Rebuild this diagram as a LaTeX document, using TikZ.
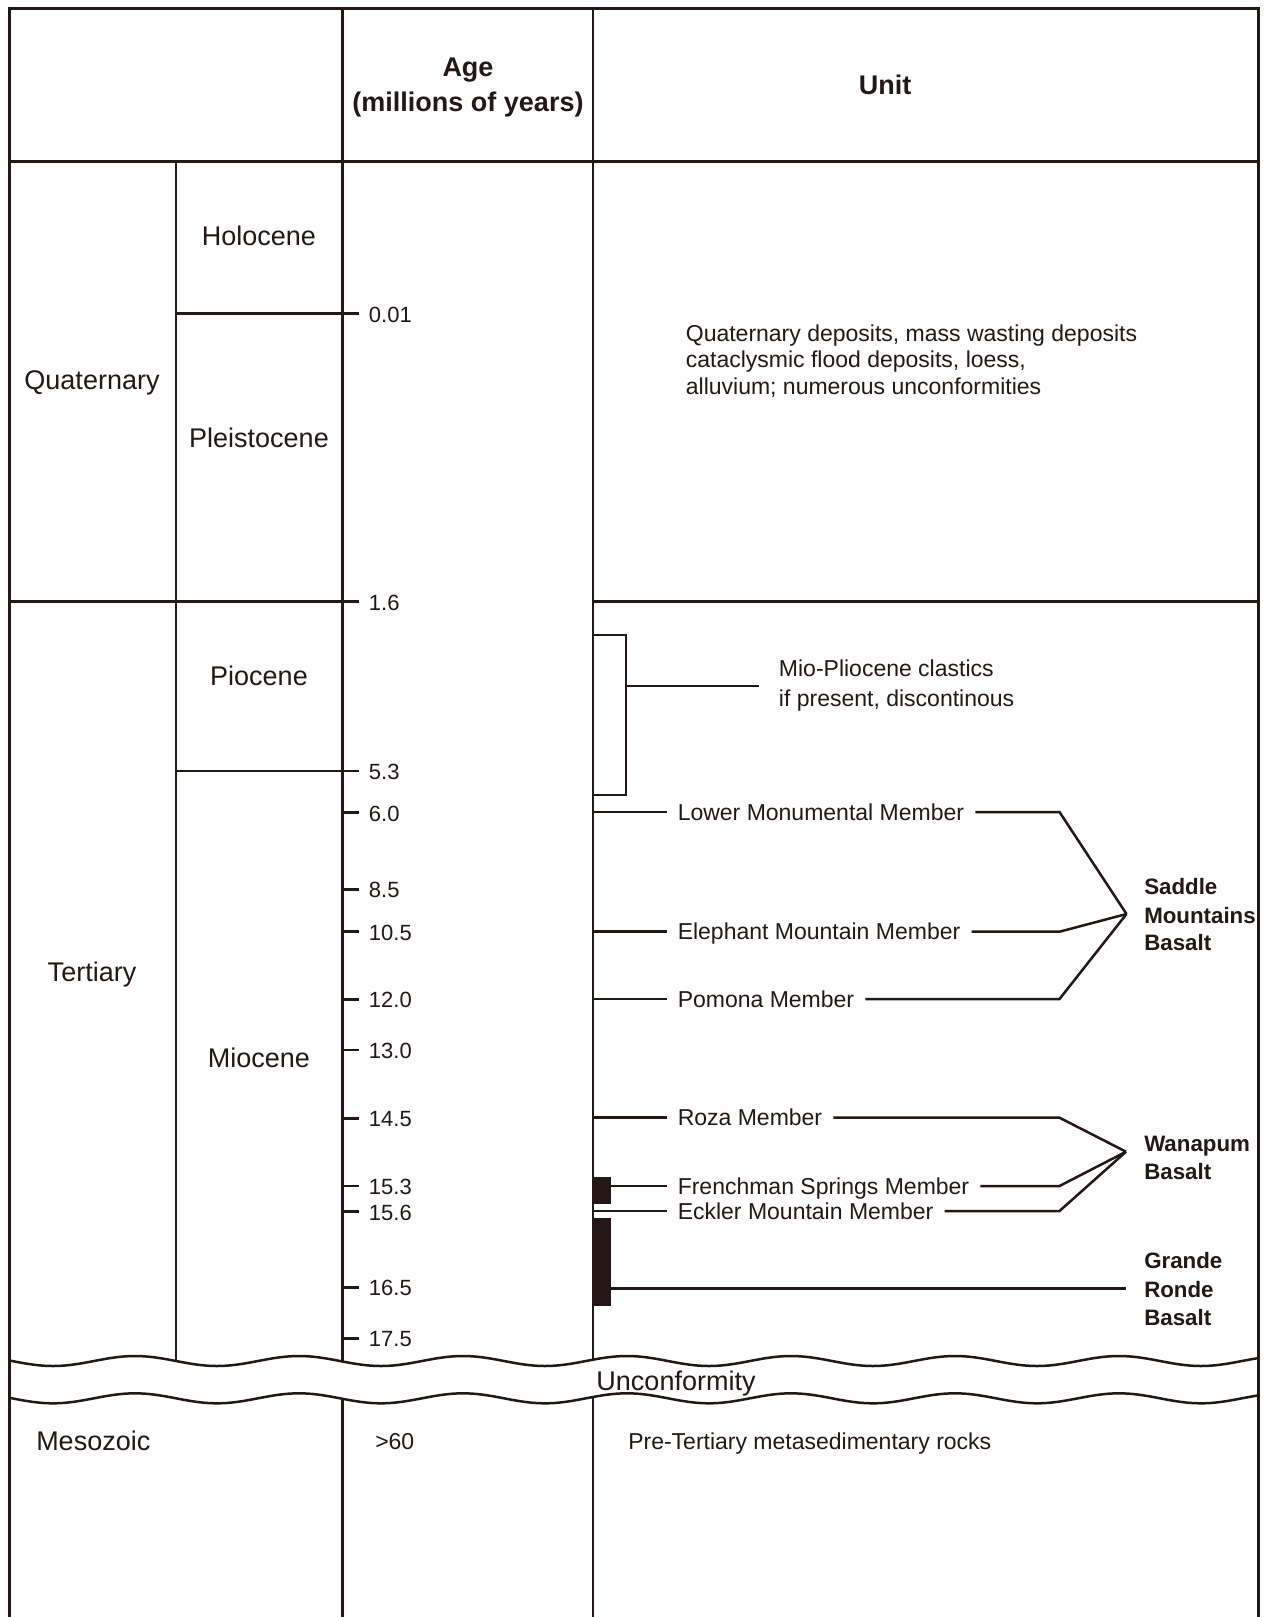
\documentclass[tikz,border=0pt]{standalone}
\usepackage{fontspec}
\setmainfont{Liberation Sans}
\definecolor{ink}{RGB}{35,24,21}
\begin{document}
\begin{tikzpicture}[x=1pt,y=-1pt,line width=2.5pt,draw=ink,
  every node/.style={inner sep=0pt,text=ink},
  big/.style={font=\fontsize{27}{32}\selectfont,text height=19.3pt,text depth=0pt},
  unittxt/.style={font=\fontsize{23}{27}\selectfont,text height=16.5pt,text depth=0pt,anchor=west},
  ticklab/.style={font=\fontsize{22}{26}\selectfont,text height=15.8pt,text depth=0pt,anchor=west},
  boldlab/.style={font=\fontsize{22.3}{27}\selectfont\bfseries,text height=16pt,text depth=0pt,anchor=west},
  head/.style={font=\fontsize{27}{32}\selectfont\bfseries,text height=19.3pt,text depth=0pt},
  member/.style={unittxt,inner xsep=10pt},
  frame/.style={line width=3pt},
]
\useasboundingbox (0,0) rectangle (1270,1617);

% ---- grid lines
\draw (176,161.5) -- (176,1380);
\draw (342.5,8) -- (342.5,1617);
\draw (593,8) -- (593,1617);
\draw (9.5,161.5) -- (1258.5,161.5);
\draw (9.5,601.5) -- (359,601.5);
\draw (593,601.5) -- (1258.5,601.5);
\draw (176,313.5) -- (359,313.5);
\draw (176,771) -- (359,771);
\foreach \ty in {812.7,889.3,931.7,999.3,1050,1118.3,1186,1211.7,1287.3,1338.3}
  \draw (342.5,\ty) -- (359,\ty);

% ---- unconformity band
\fill[white] plot[domain=0:1270,samples=260] (\x,{1361+5*sin((\x-176)/164*360)})
  -- plot[domain=1270:0,samples=260] (\x,{1398.3+5*sin((\x-176)/164*360)}) -- cycle;
\draw plot[domain=9.5:1258.5,samples=260] (\x,{1361+5*sin((\x-176)/164*360)});
\draw plot[domain=9.5:1258.5,samples=260] (\x,{1398.3+5*sin((\x-176)/164*360)});

% ---- frame
\draw[frame] (9.5,1617) -- (9.5,8) -- (1258.5,8) -- (1258.5,1617);

% ---- header
\node[head] (age) at (468,67) {Age};
\node[head] (ageu) at (468,102) {(millions of years)};
\node[head] (unit) at (885,84.7) {Unit};

% ---- periods / epochs
\node[big] (quat) at (92,380) {Quaternary};
\node[big] (holo) at (259,236.3) {Holocene};
\node[big] (pleis) at (259,438.3) {Pleistocene};
\node[big] (tert) at (92,972) {Tertiary};
\node[big] (plio) at (259,676) {Piocene};
\node[big] (mio) at (259,1057.7) {Miocene};
\node[big,anchor=west] (meso) at (35,1441) {Mesozoic};
\node[big] (unconf) at (676,1380.5) {Unconformity};

% ---- ages
\node[ticklab] (a1) at (367.7,314.5) {0.01};
\node[ticklab] (a2) at (367.7,602.5) {1.6};
\node[ticklab] (a3) at (367.7,772) {5.3};
\node[ticklab] (a4) at (367.7,813.5) {6.0};
\node[ticklab] (a5) at (367.7,890) {8.5};
\node[ticklab] (a6) at (367.7,932.5) {10.5};
\node[ticklab] (a7) at (367.7,1000) {12.0};
\node[ticklab] (a8) at (367.7,1050.7) {13.0};
\node[ticklab] (a9) at (367.7,1119) {14.5};
\node[ticklab] (a10) at (367.7,1186.7) {15.3};
\node[ticklab] (a11) at (367.7,1212.4) {15.6};
\node[ticklab] (a12) at (367.7,1288) {16.5};
\node[ticklab] (a13) at (367.7,1339) {17.5};
\node[unittxt] (a14) at (374,1441) {>60};

% ---- units
\node[unittxt] (q1) at (684.6,333.3) {Quaternary deposits, mass wasting deposits};
\node[unittxt] (q2) at (684.6,359.5) {cataclysmic flood deposits, loess,};
\node[unittxt] (q3) at (684.6,386) {alluvium; numerous unconformities};
\node[unittxt] (mp1) at (777.7,668) {Mio-Pliocene clastics};
\node[unittxt] (mp2) at (777.7,698) {if present, discontinous};
\node[unittxt] (pret) at (627,1441) {Pre-Tertiary metasedimentary rocks};

% bracket for clastics
\coordinate (brk) at (626,686);
\coordinate (mpend) at (759,686);
\draw (593,635) -- (626,635) -- (626,795) -- (593,795);
\draw (brk) -- (mpend);

% black bars
\fill[ink] (593,1176.7) rectangle (611,1204);
\fill[ink] (593,1218.3) rectangle (611,1306);

% group labels
\node[boldlab] (sm1) at (1143,886.5) {Saddle};
\node[boldlab] (sm2) at (1143,915.4) {Mountains};
\node[boldlab] (sm3) at (1143,942) {Basalt};
\node[boldlab] (wb1) at (1143,1143) {Wanapum};
\node[boldlab] (wb2) at (1143,1171) {Basalt};
\node[boldlab] (gr1) at (1143,1260) {Grande};
\node[boldlab] (gr2) at (1143,1289) {Ronde};
\node[boldlab] (gr3) at (1143,1317.4) {Basalt};
\coordinate (smx) at (1126.5,914);
\coordinate (wbx) at (1126,1151.7);
\coordinate (grx) at (1126,1288.3);

% members
\node[member] (lmm) at (666.5,812) {Lower Monumental Member};
\node[member] (emm) at (666.5,931.7) {Elephant Mountain Member};
\node[member] (pom) at (666.5,999) {Pomona Member};
\node[member] (roz) at (666.5,1117.7) {Roza Member};
\node[member] (fsm) at (666.5,1186) {Frenchman Springs Member};
\node[member] (ekm) at (666.5,1211) {Eckler Mountain Member};

\draw (593,812) -- (lmm.west);
\draw (lmm.east) -- (1059.5,812) -- (smx);
\draw (593,931.7) -- (emm.west);
\draw (emm.east) -- (1059.5,931.7) -- (smx);
\draw (593,999) -- (pom.west);
\draw (pom.east) -- (1059.5,999) -- (smx);
\draw (593,1117.7) -- (roz.west);
\draw (roz.east) -- (1059.5,1117.7) -- (wbx);
\draw (611,1186) -- (fsm.west);
\draw (fsm.east) -- (1059.5,1186) -- (wbx);
\draw (593,1211) -- (ekm.west);
\draw (ekm.east) -- (1059.5,1211) -- (wbx);
\draw (611,1288.3) -- (grx);
\end{tikzpicture}
\end{document}
